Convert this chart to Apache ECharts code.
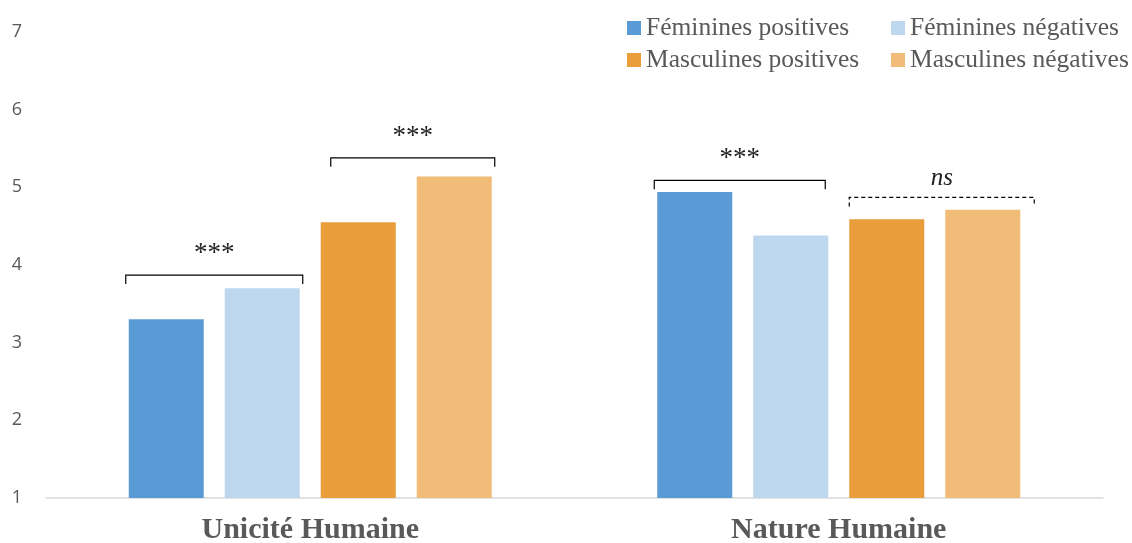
<!DOCTYPE html>
<html>
<head>
<meta charset="utf-8">
<script src="https://cdn.jsdelivr.net/npm/echarts@6/dist/echarts.min.js"></script>
<style>
  html, body { margin: 0; padding: 0; background: #fff; }
  #main { width: 1132px; height: 543px; }
</style>
</head>
<body>
<div id="main"></div>
<script>
var categories = ['Unicité Humaine', 'Nature Humaine'];
var femPos = [3.30, 4.94];
var femNeg = [3.70, 4.38];
var masPos = [4.55, 4.59];
var masNeg = [5.14, 4.71];
var yTicks = [1, 2, 3, 4, 5, 6, 7];

// significance brackets: category, first bar of the pair, level, label
var bracketCat = [0, 0, 1, 1];
var bracketFirst = [0, 2, 0, 2];
var bracketLevel = [3.87, 5.38, 5.09, 4.87];
var bracketLabel = ['***', '***', '***', 'ns'];

var myChart = echarts.init(document.getElementById('main'));

var barW = 75;
var step = 96; // bar width + gap
// hand-drawn brackets do not sit exactly on the bar edges
var padL = [3, -10, 3, 0];
var padR = [3, 3, -3, 14];

function bracketItem(params, api) {
    var i = params.dataIndex;
    var c = api.coord([api.value(0), api.value(2)]);
    var first = api.value(1);
    var x0 = c[0] + (first - 1.5) * step - barW / 2 - padL[i];
    var x1 = c[0] + (first - 0.5) * step + barW / 2 + padR[i];
    var y = c[1];
    var ns = bracketLabel[i] === 'ns';
    var lineStyle = { stroke: '#000', lineWidth: 1.2, fill: null };
    if (ns) {
        lineStyle.lineDash = [4, 3];
    }
    return {
        type: 'group',
        children: [
            {
                type: 'polyline',
                shape: { points: [[x0, y + 9], [x0, y], [x1, y], [x1, y + 9]] },
                style: lineStyle
            },
            {
                type: 'text',
                x: (x0 + x1) / 2,
                y: ns ? y - 19 : y - 21,
                style: {
                    text: bracketLabel[i],
                    fill: '#222',
                    font: (ns ? 'italic 25px' : '27px') + ' "Liberation Serif"',
                    align: 'center',
                    verticalAlign: 'middle'
                }
            }
        ]
    };
}

var bracketData = [];
for (var k = 0; k < bracketCat.length; k++) {
    bracketData.push([bracketCat[k], bracketFirst[k], bracketLevel[k]]);
}

var legendText = {
    color: '#595959',
    fontFamily: 'Liberation Serif',
    fontSize: 25.5,
    lineHeight: 26
};

var option = {
    animation: false,
    grid: { left: 46, right: 29, top: 32, bottom: 45, outerBoundsMode: 'none' },
    legend: [
        {
            orient: 'vertical',
            left: 622, top: 10,
            itemWidth: 14, itemHeight: 14, itemGap: 6,
            icon: 'rect',
            textStyle: legendText,
            data: ['Féminines positives', 'Masculines positives']
        },
        {
            orient: 'vertical',
            left: 886, top: 10,
            itemWidth: 14, itemHeight: 14, itemGap: 6,
            icon: 'rect',
            textStyle: legendText,
            data: ['Féminines négatives', 'Masculines négatives']
        }
    ],
    xAxis: {
        type: 'category',
        data: categories,
        axisLine: { lineStyle: { color: '#d9d9d9', width: 1.5 } },
        axisTick: { show: false },
        axisLabel: {
            color: '#595959',
            fontFamily: 'Liberation Serif',
            fontWeight: 'bold',
            fontSize: 30,
            margin: 17
        }
    },
    yAxis: {
        type: 'value',
        min: yTicks[0],
        max: yTicks[yTicks.length - 1],
        interval: 1,
        splitLine: { show: false },
        axisLine: { show: false },
        axisTick: { show: false },
        axisLabel: {
            color: '#595959',
            fontFamily: 'Open Sans',
            fontSize: 18,
            margin: 24
        }
    },
    series: [
        { name: 'Féminines positives', type: 'bar', data: femPos, barWidth: barW, barGap: '28%', itemStyle: { color: '#5B9BD5' } },
        { name: 'Féminines négatives', type: 'bar', data: femNeg, barWidth: barW, barGap: '28%', itemStyle: { color: '#BDD7EE' } },
        { name: 'Masculines positives', type: 'bar', data: masPos, barWidth: barW, barGap: '28%', itemStyle: { color: '#E99D3B' } },
        { name: 'Masculines négatives', type: 'bar', data: masNeg, barWidth: barW, barGap: '28%', itemStyle: { color: '#F1BC77' } },
        {
            type: 'custom',
            renderItem: bracketItem,
            data: bracketData,
            encode: { x: 0, y: 2 },
            z: 5,
            silent: true
        }
    ]
};

myChart.setOption(option);
</script>
</body>
</html>
